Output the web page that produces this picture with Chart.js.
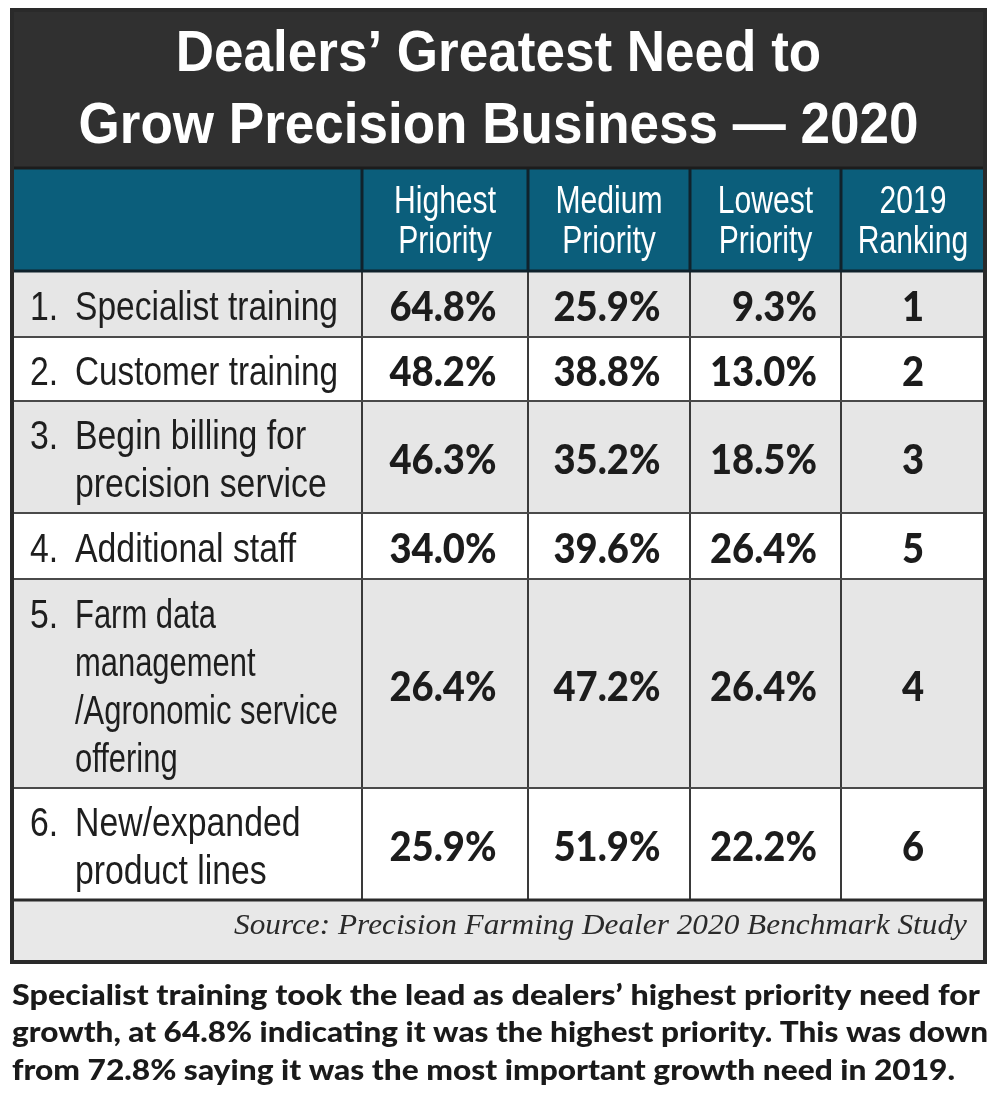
<!DOCTYPE html>
<html lang="en">
<head>
  <meta charset="UTF-8">
  <title>Dealers’ Greatest Need to Grow Precision Business — 2020</title>
  <style>
    body {
      margin: 0;
      background: #fff;
    }
    #wrap {
      width: 1000px;
      height: 1106px;
    }
  </style>
</head>
<body>
  <div id="wrap"><canvas id="table" width="1000" height="1106"></canvas></div>

  <script src="https://cdn.jsdelivr.net/npm/chart.js"></script>
  <script>
    // ---- data ----
    const titleLines = ['Dealers’ Greatest Need to', 'Grow Precision Business — 2020'];
    const columnHeads = [['Highest', 'Priority'], ['Medium', 'Priority'], ['Lowest', 'Priority'], ['2019', 'Ranking']];
    const needs = [
      ['Specialist training'],
      ['Customer training'],
      ['Begin billing for', 'precision service'],
      ['Additional staff'],
      ['Farm data', 'management', '/Agronomic service', 'offering'],
      ['New/expanded', 'product lines']
    ];
    const highest = [64.8, 48.2, 46.3, 34.0, 26.4, 25.9];
    const medium = [25.9, 38.8, 35.2, 39.6, 47.2, 51.9];
    const lowest = [9.3, 13.0, 18.5, 26.4, 26.4, 22.2];
    const ranking2019 = [1, 2, 3, 5, 4, 6];
    const sourceNote = 'Source: Precision Farming Dealer 2020 Benchmark Study';
    const caption = [
      'Specialist training took the lead as dealers’ highest priority need for',
      'growth, at 64.8% indicating it was the highest priority. This was down',
      'from 72.8% saying it was the most important growth need in 2019.'
    ];

    // ---- layout (in scale units, the scales map 1:1 onto the canvas) ----
    const colEdges = [12, 362, 528, 690, 841, 985];
    const titleTop = 10, headTop = 168, bodyTop = 271;
    const rowEdges = [271, 337, 401, 513, 579, 788, 900];
    const tableBottom = 962;
    const lineGap = 48;

    const COND = "'Liberation Sans Narrow', 'Liberation Sans', sans-serif";
    const ROUND = "Lato, 'Liberation Sans', sans-serif";

    function squeeze(ctx, font, sample, target) {
      ctx.font = font;
      return target / ctx.measureText(sample).width;
    }

    function drawText(ctx, text, x, y, align, sx) {
      ctx.save();
      ctx.translate(x, y);
      ctx.scale(sx, 1);
      ctx.textAlign = align;
      ctx.fillText(text, 0, 0);
      ctx.restore();
    }

    const tablePlugin = {
      id: 'tablePlugin',
      afterDraw(chart) {
        const ctx = chart.ctx;
        const px = v => chart.scales.x.getPixelForValue(v);
        const py = v => chart.scales.y.getPixelForValue(v);
        const box = (x0, y0, x1, y1, color) => {
          ctx.fillStyle = color;
          ctx.fillRect(px(x0), py(y0), px(x1) - px(x0), py(y1) - py(y0));
        };
        const line = (x0, y0, x1, y1, color, w) => {
          ctx.strokeStyle = color;
          ctx.lineWidth = w;
          ctx.beginPath();
          ctx.moveTo(px(x0), py(y0));
          ctx.lineTo(px(x1), py(y1));
          ctx.stroke();
        };
        const L = colEdges[0], R = colEdges[colEdges.length - 1];
        ctx.textBaseline = 'alphabetic';

        // backgrounds
        box(L, titleTop, R, headTop, '#303030');
        box(L, headTop, R, bodyTop, '#0b5e7b');
        needs.forEach((n, i) => {
          box(L, rowEdges[i], R, rowEdges[i + 1], i % 2 === 0 ? '#e6e6e6' : '#ffffff');
        });
        box(L, rowEdges[rowEdges.length - 1], R, tableBottom, '#e8e8e8');

        // grid
        for (let c = 1; c < colEdges.length - 1; c++) {
          line(colEdges[c], headTop, colEdges[c], bodyTop, '#10222c', 3);
          line(colEdges[c], bodyTop, colEdges[c], rowEdges[rowEdges.length - 1], '#3a3a3a', 2);
        }
        for (let r = 1; r < rowEdges.length - 1; r++) {
          line(L, rowEdges[r], R, rowEdges[r], '#4a4a4a', 2);
        }
        line(L, headTop, R, headTop, '#1c1c1c', 3);
        line(L, bodyTop, R, bodyTop, '#10222c', 3);
        line(L, rowEdges[rowEdges.length - 1], R, rowEdges[rowEdges.length - 1], '#2a2a2a', 3);
        ctx.strokeStyle = '#2a2a2a';
        ctx.lineWidth = 4;
        ctx.strokeRect(px(L), py(titleTop), px(R) - px(L), py(tableBottom) - py(titleTop));

        // title
        const midX = (px(L) + px(R)) / 2;
        const titleFont = 'bold 58px ' + COND;
        const sTitle = squeeze(ctx, titleFont, titleLines[1], 840);
        ctx.fillStyle = '#ffffff';
        ctx.font = titleFont;
        drawText(ctx, titleLines[0], midX, py(71), 'center', sTitle);
        drawText(ctx, titleLines[1], midX, py(143), 'center', sTitle);

        // column heads
        const headFont = '38px ' + COND;
        const sHead = squeeze(ctx, headFont, 'Medium', 107);
        ctx.font = headFont;
        columnHeads.forEach((h, c) => {
          const cx = (px(colEdges[c + 1]) + px(colEdges[c + 2])) / 2;
          drawText(ctx, h[0], cx, py(213), 'center', sHead);
          drawText(ctx, h[1], cx, py(253), 'center', sHead);
        });

        // row labels
        const labelFont = '41px ' + COND;
        const sLabel = squeeze(ctx, labelFont, 'Specialist training', 265);
        const maxW = px(colEdges[1]) - px(75) - 24;
        ctx.font = labelFont;
        ctx.fillStyle = '#1e1e1e';
        needs.forEach((lines, i) => {
          const mid = (py(rowEdges[i]) + py(rowEdges[i + 1])) / 2;
          const first = mid + 16 - lineGap * (lines.length - 1) / 2;
          const widest = Math.max(...lines.map(t => ctx.measureText(t).width));
          const s = Math.min(sLabel, maxW / widest);
          drawText(ctx, (i + 1) + '.', px(30), first, 'left', sLabel);
          lines.forEach((t, k) => {
            drawText(ctx, t, px(75), first + k * lineGap, 'left', s);
          });
        });

        // values
        const numFont = '900 41px ' + ROUND;
        const sNum = squeeze(ctx, numFont, '25.9%', 107);
        ctx.font = numFont;
        ctx.fillStyle = '#1c1c1c';
        const half = ctx.measureText('00.0%').width * sNum / 2;
        [highest, medium, lowest].forEach((series, c) => {
          const cx = (px(colEdges[c + 1]) + px(colEdges[c + 2])) / 2;
          series.forEach((v, i) => {
            const mid = (py(rowEdges[i]) + py(rowEdges[i + 1])) / 2;
            drawText(ctx, v.toFixed(1) + '%', cx + half - 2, mid + 17, 'right', sNum);
          });
        });
        const rx = (px(colEdges[4]) + px(colEdges[5])) / 2;
        ranking2019.forEach((v, i) => {
          const mid = (py(rowEdges[i]) + py(rowEdges[i + 1])) / 2;
          drawText(ctx, String(v), rx, mid + 17, 'center', sNum);
        });

        // source
        const srcFont = 'italic 30px "Liberation Serif", serif';
        const sSrc = squeeze(ctx, srcFont, sourceNote, 733);
        ctx.font = srcFont;
        ctx.fillStyle = '#2a2a2a';
        drawText(ctx, sourceNote, px(967), py(934), 'right', sSrc);

        // caption under the table
        const capFont = '900 29px ' + ROUND;
        const capWidths = [968, 976, 943];
        const capBase = [1005, 1042, 1080];
        ctx.fillStyle = '#1a1a1a';
        caption.forEach((t, k) => {
          const s = squeeze(ctx, capFont, t, capWidths[k]);
          ctx.font = capFont;
          drawText(ctx, t, px(12), py(capBase[k]), 'left', s);
        });
      }
    };

    new Chart(document.getElementById('table'), {
      type: 'scatter',
      data: { datasets: [] },
      options: {
        responsive: false,
        animation: false,
        events: [],
        layout: { padding: 0 },
        plugins: {
          legend: { display: false },
          tooltip: { enabled: false }
        },
        scales: {
          x: { type: 'linear', display: false, min: 0, max: 1000 },
          y: { type: 'linear', display: false, min: 0, max: 1106, reverse: true }
        }
      },
      plugins: [tablePlugin]
    });
  </script>
</body>
</html>
